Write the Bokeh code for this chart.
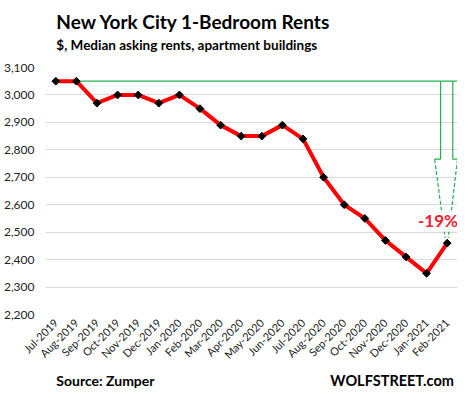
from bokeh.plotting import figure
from bokeh.models import (Range1d, FixedTicker, NumeralTickFormatter, Label, ColumnDataSource)
from bokeh.layouts import column
from bokeh.core.properties import value
from bokeh.embed import file_html
from bokeh.resources import INLINE
import math

months = ["Jul-2019", "Aug-2019", "Sep-2019", "Oct-2019", "Nov-2019", "Dec-2019",
          "Jan-2020", "Feb-2020", "Mar-2020", "Apr-2020", "May-2020", "Jun-2020",
          "Jul-2020", "Aug-2020", "Sep-2020", "Oct-2020", "Nov-2020", "Dec-2020",
          "Jan-2021", "Feb-2021"]
rents = [3050, 3050, 2970, 3000, 3000, 2970, 3000, 2950, 2890, 2850,
         2850, 2890, 2840, 2700, 2600, 2550, 2470, 2410, 2350, 2460]
y_ticks = [2200, 2300, 2400, 2500, 2600, 2700, 2800, 2900, 3000, 3100]

title_text = "New York City 1-Bedroom Rents"
subtitle_text = "$, Median asking rents, apartment buildings"
source_text = "Source: Zumper"
brand_text = "WOLFSTREET.com"

FONT = "Lato"
GREEN = "#22b14c"
W = 457


def text_strip(h):
    f = figure(width=W, height=h, output_backend="svg", toolbar_location=None,
               x_range=Range1d(0, W), y_range=Range1d(h, 0),
               x_axis_type=None, y_axis_type=None,
               min_border_left=0, min_border_right=0, min_border_top=0, min_border_bottom=0)
    f.outline_line_color = None
    f.xgrid.visible = False
    f.ygrid.visible = False
    return f


# ---- header ----
top = text_strip(59)
top.text(x=[12], y=[21], text=[title_text], text_font=value(FONT), text_font_size="19px",
         text_font_style="bold", text_color="black", text_baseline="middle", text_align="left")
top.text(x=[12], y=[44], text=[subtitle_text], text_font=value(FONT), text_font_size="13.5px",
         text_font_style="bold", text_color="black", text_baseline="middle", text_align="left")

# ---- main chart ----
xs = list(range(len(months)))
n = len(months)

p = figure(width=W, height=309, output_backend="svg", toolbar_location=None,
           x_range=Range1d(-0.5, n - 0.5), y_range=Range1d(y_ticks[0], y_ticks[-1]),
           min_border_left=45, min_border_right=0, min_border_bottom=53, min_border_top=8)
p.outline_line_color = None

p.xaxis.ticker = FixedTicker(ticks=xs)
p.xaxis.major_label_overrides = {i: m for i, m in zip(xs, months)}
p.xaxis.major_label_orientation = math.pi / 4
p.xaxis.axis_line_color = None
p.xaxis.major_tick_line_color = None
p.xaxis.minor_tick_line_color = None
p.xaxis.major_tick_out = 0
p.xaxis.major_tick_in = 0
p.xaxis.major_label_text_font = FONT
p.xaxis.major_label_text_font_size = "11px"
p.xaxis.major_label_text_color = "#222222"
p.xaxis.major_label_standoff = 6

p.yaxis.ticker = FixedTicker(ticks=y_ticks)
p.yaxis.formatter = NumeralTickFormatter(format="0,0")
p.yaxis.axis_line_color = None
p.yaxis.major_tick_line_color = None
p.yaxis.minor_tick_line_color = None
p.yaxis.major_tick_out = 0
p.yaxis.major_tick_in = 0
p.yaxis.major_label_text_font = FONT
p.yaxis.major_label_text_font_size = "12px"
p.yaxis.major_label_text_color = "#222222"
p.yaxis.major_label_standoff = 11

p.xgrid.grid_line_color = None
p.ygrid.grid_line_color = "#d9d9d9"
p.ygrid.grid_line_width = 1

# reference line from the starting level and the arrow
base = rents[1]
last = rents[-1]
lx = xs[-1]
p.line([xs[1] + 0.2, n - 0.5], [base, base], line_color=GREEN, line_width=1.2)

head_top = base - 284
tip = last + 19
p.line([lx - 0.32, lx - 0.32], [base, head_top], line_color=GREEN, line_width=1.2)
p.line([lx + 0.27, lx + 0.27], [base, head_top], line_color=GREEN, line_width=1.2)
p.line([lx - 0.61, lx - 0.32], [head_top, head_top], line_color=GREEN, line_width=1.2)
p.line([lx + 0.27, lx + 0.5], [head_top, head_top], line_color=GREEN, line_width=1.2)
p.line([lx - 0.61, lx - 0.1], [head_top, tip], line_color=GREEN, line_width=1.2, line_dash="4 2")
p.line([lx + 0.5, lx + 0.05], [head_top, tip], line_color=GREEN, line_width=1.2, line_dash="4 2")

# data line
src = ColumnDataSource(dict(x=xs, y=rents))
p.line("x", "y", source=src, line_color="#ff0000", line_width=4)
p.scatter("x", "y", source=src, marker="square", angle=math.pi / 4, size=5.5, color="black")

pct = round((last - base) / base * 100)
p.add_layout(Label(x=lx - 0.45, y=(last + 81), text=f"{pct}%", text_font=FONT,
                   text_font_size="17px", text_font_style="bold", text_color="#ee2233",
                   text_align="center", text_baseline="middle",
                   background_fill_color="white"))

# ---- footer ----
bottom = text_strip(28)
bottom.text(x=[12], y=[12], text=[source_text], text_font=value(FONT), text_font_size="14px",
            text_font_style="bold", text_color="black", text_baseline="middle", text_align="left")
bottom.text(x=[453], y=[12], text=[brand_text], text_font=value(FONT), text_font_size="14.5px",
            text_font_style="bold", text_color="black", text_baseline="middle", text_align="right")

layout = column(top, p, bottom, spacing=0)
open("out.html", "w").write(file_html(layout, INLINE))
